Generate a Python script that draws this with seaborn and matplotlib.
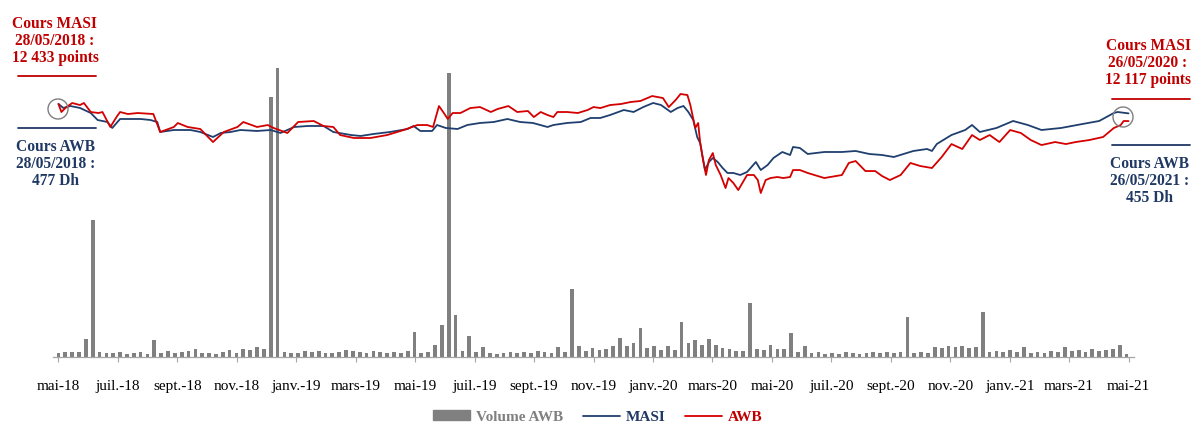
import numpy as np
import pandas as pd
import matplotlib
matplotlib.use("Agg")
import matplotlib.pyplot as plt
import seaborn as sns
from matplotlib.lines import Line2D
from matplotlib.patches import Patch, Ellipse

# ---------------- DATA ----------------
# MASI (points): days elapsed since 28/05/2018
masi_days = [0, 5, 12, 22, 33, 40, 50, 55, 63, 74, 84, 94, 101, 104, 118, 135, 145, 158, 166, 176,
             186, 203, 217, 227, 241, 255, 271, 281, 299, 309, 322, 339, 357, 363, 370, 382, 387, 396, 408, 418,
             431, 445, 459, 472, 485, 500, 506, 520, 534, 544, 554, 564, 578, 588, 598, 608, 616, 626, 633, 639,
             644, 649, 653, 656, 661, 665, 669, 674, 679, 684, 690, 697, 704, 713, 718, 725, 731, 740, 748, 751,
             758, 766, 783, 801, 815, 829, 842, 854, 864, 874, 888, 893, 898, 913, 927, 934, 942, 959, 976, 991,
             1005, 1025, 1047, 1064, 1079, 1083, 1094]
masi_vals = [12433, 12299, 12366, 12299, 12131, 11895, 11828, 11627, 11929, 11929, 11929, 11895, 11828, 11492, 11559, 11559, 11492, 11324, 11459, 11492,
             11559, 11526, 11559, 11459, 11660, 11694, 11694, 11492, 11391, 11358, 11425, 11492, 11593, 11694, 11526, 11526, 11727, 11627, 11593, 11727,
             11795, 11828, 11929, 11828, 11795, 11660, 11727, 11795, 11828, 11963, 11963, 12063, 12231, 12164, 12332, 12467, 12399, 12164, 12299, 12366,
             12164, 11895, 11324, 11123, 10215, 10484, 10619, 10484, 10283, 10115, 10115, 10047, 10148, 10484, 10215, 10383, 10619, 10820, 10719, 10988,
             10955, 10753, 10820, 10820, 10854, 10753, 10719, 10652, 10753, 10854, 10921, 10854, 11089, 11391, 11559, 11727, 11492, 11627, 11862, 11727,
             11559, 11627, 11761, 11862, 12131, 12164, 12117]

# AWB share price (Dh)
awb_days = [0, 3, 7, 14, 22, 26, 33, 41, 45, 53, 60, 63, 71, 81, 97, 104, 118, 122, 132, 145,
            158, 169, 183, 189, 203, 214, 220, 234, 245, 261, 271, 281, 288, 302, 319, 336, 353, 367, 377, 383,
            389, 394, 398, 403, 411, 421, 431, 442, 449, 460, 469, 480, 486, 493, 500, 506, 510, 520, 531, 541,
            547, 554, 564, 575, 585, 595, 607, 618, 624, 631, 636, 643, 646, 651, 654, 656, 659, 662, 665, 669,
            672, 677, 682, 685, 690, 695, 704, 711, 715, 718, 723, 728, 735, 741, 748, 751, 758, 766, 783, 801,
            808, 815, 825, 835, 842, 850, 861, 871, 881, 893, 903, 913, 924, 934, 942, 952, 962, 973, 984, 994,
            1005, 1019, 1030, 1040, 1054, 1068, 1079, 1086, 1089, 1094]
awb_vals = [477.0, 466.7, 471.8, 478.3, 475.7, 478.3, 466.7, 465.4, 466.7, 447.4, 461.5, 466.7, 464.1, 465.4, 464.1, 440.9, 447.4, 452.5, 447.4, 444.8,
            428.0, 440.9, 447.4, 453.8, 447.4, 449.9, 446.1, 439.6, 453.8, 455.1, 448.6, 447.4, 437.0, 433.2, 433.2, 437.0, 443.5, 449.9, 449.9, 447.4,
            474.4, 465.4, 457.7, 465.4, 465.4, 471.8, 473.1, 466.7, 470.6, 474.4, 466.7, 468.0, 460.2, 466.7, 462.8, 460.2, 466.7, 466.7, 465.4, 469.3,
            473.1, 471.8, 475.7, 477.0, 479.6, 480.9, 487.3, 484.7, 473.1, 482.2, 489.9, 488.6, 475.7, 446.1, 452.5, 428.0, 404.8, 385.5, 404.8, 413.8,
            398.4, 385.5, 368.7, 381.6, 375.2, 366.1, 385.5, 385.5, 379.0, 362.3, 379.0, 381.6, 382.9, 381.6, 382.9, 391.9, 391.9, 388.1, 381.6, 385.5,
            401.0, 403.5, 390.6, 390.6, 384.2, 379.0, 385.5, 401.0, 397.1, 394.5, 408.7, 425.4, 419.0, 437.0, 430.6, 437.0, 428.0, 443.5, 439.6, 430.6,
            424.1, 428.0, 425.4, 428.0, 430.6, 434.5, 446.1, 449.9, 455.1, 455.0]

# AWB weekly traded volume (x10 000 shares), one value per week from 28/05/2018
vol_weekly = [4, 5, 5, 5, 18, 137, 5, 4, 4, 5, 3, 4, 5, 3, 17, 4, 6, 4, 5, 6,
              8, 4, 4, 3, 5, 7, 4, 8, 7, 10, 8, 260, 289, 5, 4, 4, 6, 5, 6, 4,
              4, 5, 7, 6, 5, 4, 6, 5, 4, 5, 4, 6, 25, 4, 5, 12, 32, 284, 42, 6,
              21, 5, 10, 4, 3, 4, 5, 4, 5, 4, 6, 5, 4, 10, 5, 68, 11, 6, 9, 7,
              8, 11, 19, 11, 14, 29, 9, 11, 7, 11, 7, 35, 14, 17, 12, 18, 12, 9, 8, 6,
              6, 54, 8, 7, 12, 8, 8, 24, 5, 11, 4, 5, 3, 4, 3, 5, 4, 3, 4, 5,
              4, 5, 4, 5, 40, 4, 5, 4, 10, 9, 11, 10, 11, 9, 10, 45, 5, 6, 5, 7,
              5, 10, 4, 5, 4, 6, 5, 10, 6, 7, 5, 8, 6, 7, 8, 12, 3]

tick_labels = ["mai-18", "juil.-18", "sept.-18", "nov.-18", "janv.-19", "mars-19", "mai-19",
               "juil.-19", "sept.-19", "nov.-19", "janv.-20", "mars-20", "mai-20", "juil.-20",
               "sept.-20", "nov.-20", "janv.-21", "mars-21", "mai-21"]

series_names = ["Volume AWB", "MASI", "AWB"]

# ---------------- STYLE ----------------
sns.set_theme(style="white")
plt.rcParams['font.family'] = ['Liberation Serif', 'DejaVu Serif']

RED = "#C00000"
RED_LINE = "#D40000"
BLUE = "#1F3864"
BLUE_LINE = "#1F3F6E"
GREY = "#808080"

W, H = 1192, 425
fig = plt.figure(figsize=(W / 100, H / 100), dpi=100)

ax_vol = fig.add_axes([52.6 / W, 68 / H, (1134.4 - 52.6) / W, 337 / H])
ax_masi = ax_vol.twinx()
ax_awb = ax_vol.twinx()

# Volume bars
vol_days = np.arange(len(vol_weekly)) * 7
ax_vol.bar(vol_days, vol_weekly, width=3.8, color=GREY, linewidth=0, zorder=1)
ax_vol.set_ylim(0, 337)

# Lines
df_masi = pd.DataFrame({"jour": masi_days, "valeur": masi_vals})
df_awb = pd.DataFrame({"jour": awb_days, "valeur": awb_vals})
sns.lineplot(data=df_masi, x="jour", y="valeur", ax=ax_masi, color=BLUE_LINE, linewidth=1.3)
sns.lineplot(data=df_awb, x="jour", y="valeur", ax=ax_awb, color=RED_LINE, linewidth=1.3)
ax_masi.set_ylim(3932, 15255)
ax_awb.set_ylim(150.9, 585.3)

for a in (ax_vol, ax_masi, ax_awb):
    a.set_xlim(-6, 1100)
    a.set_ylabel("")
    a.set_xlabel("")
    a.set_yticks([])
    for s in ("top", "left", "right"):
        a.spines[s].set_visible(False)
    a.patch.set_alpha(0)
for a in (ax_masi, ax_awb):
    a.spines["bottom"].set_visible(False)
    a.tick_params(axis="x", bottom=False, labelbottom=False)

ax_vol.spines["bottom"].set_color("#A6A6A6")
ax_vol.spines["bottom"].set_linewidth(0.9)
ax_vol.set_xticks(np.linspace(0, 1094, len(tick_labels)))
ax_vol.set_xticklabels(tick_labels, fontsize=11)
ax_vol.tick_params(axis="x", bottom=True, direction="out", length=3.5, width=0.8,
                   color="#A6A6A6", pad=13, labelcolor="black")

# ---------------- ANNOTATIONS ----------------
def fx(px):
    return px / W

def fy(py):
    return 1 - py / H

tkw = dict(ha="center", va="center", fontsize=11.2, fontweight="bold", linespacing=1.1,
           transform=fig.transFigure)
fig.text(fx(55), fy(41), "Cours MASI\n28/05/2018 :\n12 433 points", color=RED, **tkw)
fig.text(fx(56), fy(164), "Cours AWB\n28/05/2018 :\n477 Dh", color=BLUE, **tkw)
fig.text(fx(1148), fy(63), "Cours MASI\n26/05/2020 :\n12 117 points", color=RED, **tkw)
fig.text(fx(1150), fy(181), "Cours AWB\n26/05/2021 :\n455 Dh", color=BLUE, **tkw)

fig.add_artist(Line2D([fx(18), fx(96)], [fy(76), fy(76)], color=RED, lw=1.3, transform=fig.transFigure))
fig.add_artist(Line2D([fx(18), fx(96)], [fy(128), fy(128)], color=BLUE, lw=1.3, transform=fig.transFigure))
fig.add_artist(Line2D([fx(1112), fx(1190)], [fy(99), fy(99)], color=RED, lw=1.3, transform=fig.transFigure))
fig.add_artist(Line2D([fx(1112), fx(1190)], [fy(145), fy(145)], color=BLUE, lw=1.3, transform=fig.transFigure))

for cx, cy in ((58, 109), (1123, 117)):
    fig.add_artist(Ellipse((fx(cx), fy(cy)), width=20 / W, height=20 / H, fill=False,
                           edgecolor="#7F7F7F", lw=1.0, transform=fig.transFigure))

# ---------------- LEGEND ----------------
handles = [Patch(facecolor=GREY, edgecolor=GREY),
           Line2D([0], [0], color=BLUE_LINE, lw=1.3),
           Line2D([0], [0], color=RED_LINE, lw=1.3)]
leg = fig.legend(handles, series_names, loc="center", bbox_to_anchor=(598 / W, fy(417)),
                 ncol=3, frameon=False, handlelength=2.4, handleheight=0.6,
                 columnspacing=1.3, handletextpad=0.4,
                 prop={"family": "Liberation Serif", "weight": "bold", "size": 11})
for txt, col in zip(leg.get_texts(), [GREY, BLUE, RED]):
    txt.set_color(col)

fig.savefig("out.png", dpi=100)
